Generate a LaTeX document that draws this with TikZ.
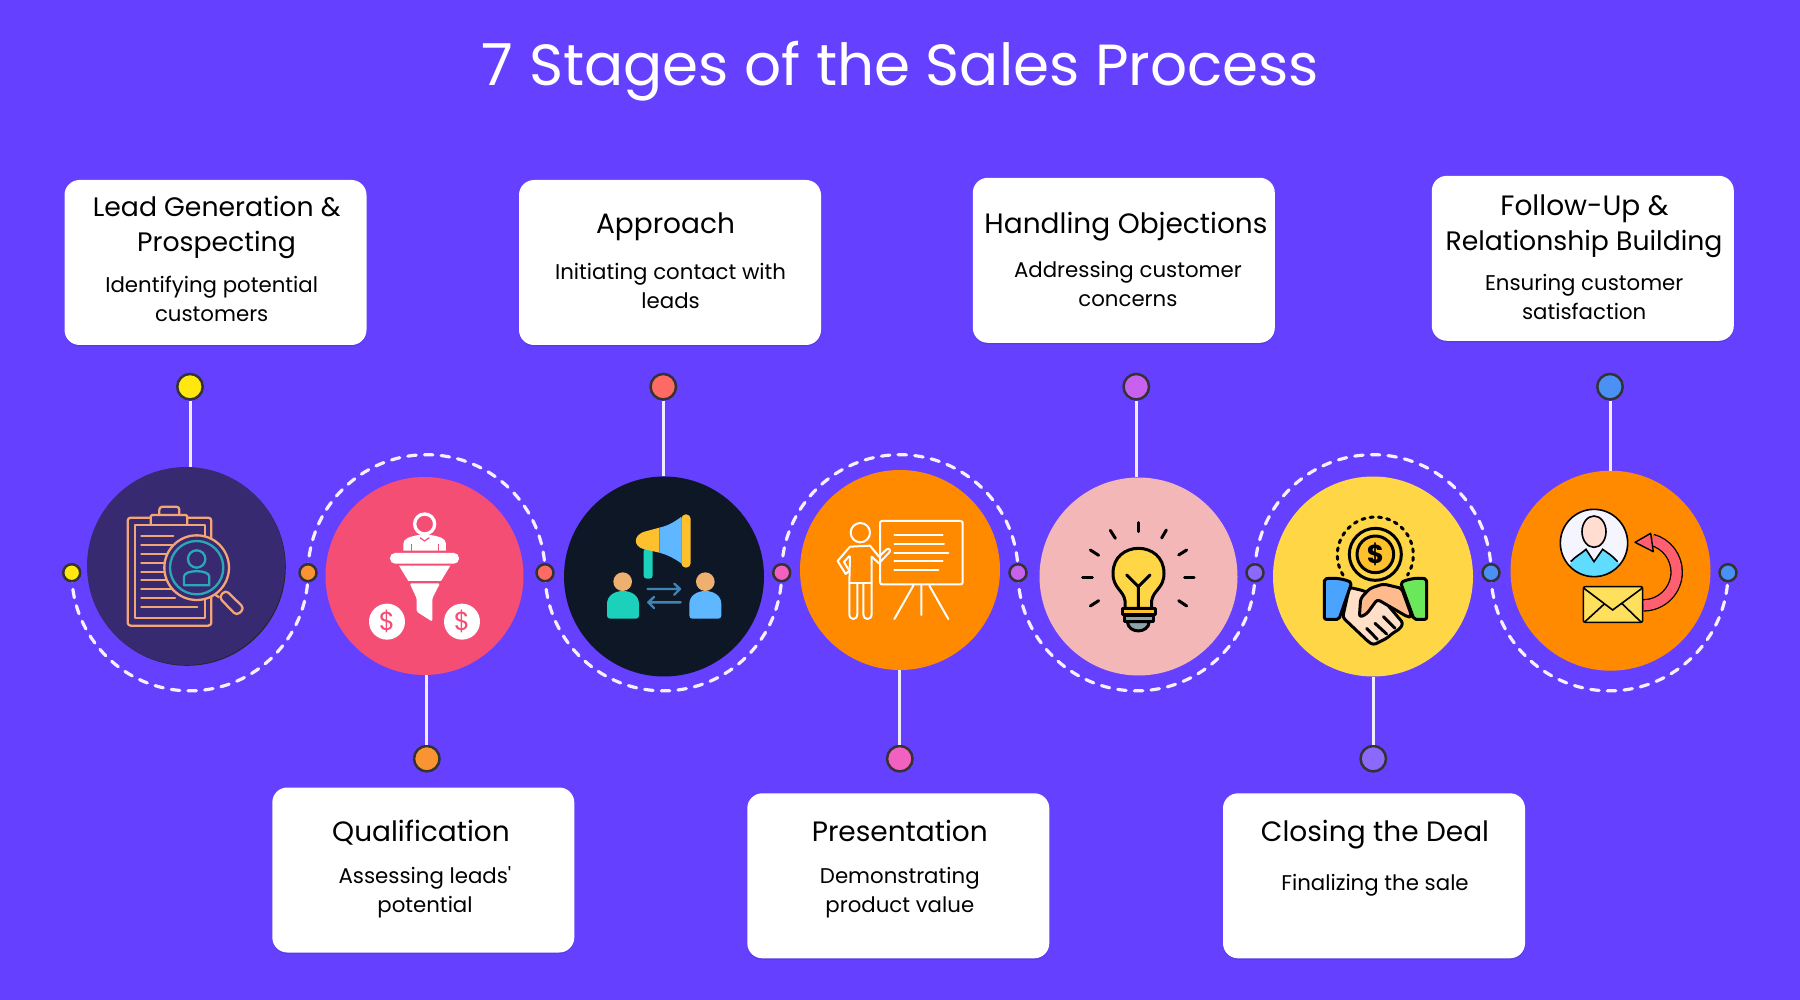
\documentclass[tikz,border=0pt]{standalone}
\usepackage{fontspec}
\setmainfont{Poppins}
\newfontfamily\straightfont{Poppins}
\usetikzlibrary{shadows}
\definecolor{bgc}{HTML}{6640FF}
\definecolor{cA}{HTML}{382A70}
\definecolor{cB}{HTML}{F54E75}
\definecolor{cC}{HTML}{0D1726}
\definecolor{cD}{HTML}{FF8A00}
\definecolor{cE}{HTML}{F4B7B7}
\definecolor{cF}{HTML}{FFD645}
\definecolor{dA}{HTML}{FFE70F}
\definecolor{dB}{HTML}{FA9433}
\definecolor{dC}{HTML}{FF6B64}
\definecolor{dD}{HTML}{F261BF}
\definecolor{dE}{HTML}{C862EE}
\definecolor{dF}{HTML}{8A69FB}
\definecolor{dG}{HTML}{4A90F5}
\definecolor{peach}{HTML}{F4A575}
\definecolor{tealb}{HTML}{2BA8B8}
\definecolor{tealc}{HTML}{1BD1BC}
\definecolor{ambr}{HTML}{FFC02E}
\definecolor{skyb}{HTML}{5FB7FF}
\definecolor{skin}{HTML}{EEB06F}
\definecolor{arrb}{HTML}{3E85B5}
\definecolor{retred}{HTML}{FF5F6E}
\definecolor{gbulb}{HTML}{8FA3A8}
\definecolor{cuffb}{HTML}{4AA3FF}
\definecolor{cuffg}{HTML}{6BE85A}
\definecolor{handl}{HTML}{FFDFC8}
\definecolor{handd}{HTML}{FFBB8E}
\definecolor{envy}{HTML}{FFE05C}
\definecolor{cyanb}{HTML}{5FDCFF}
\definecolor{facep}{HTML}{FFDDD0}
\tikzset{
  disc/.style={circle,inner sep=0pt,minimum size=#1,draw=none},
  pin/.style={circle,inner sep=0pt,minimum size=25.5pt,draw=black!80,line width=2.5pt,fill=#1},
  dot/.style={circle,inner sep=0pt,minimum size=17pt,draw=black!80,line width=2.5pt,fill=#1},
  card/.style={rectangle,rounded corners=15pt,fill=white,minimum width=302pt,minimum height=165pt,inner sep=0pt,
    drop shadow={shadow xshift=0pt,shadow yshift=-1.5pt,opacity=.1,fill=black}},
  stem/.style={draw=white!90!bgc,line width=3pt},
  wave/.style={draw=white!92!bgc,line width=3.2pt,line cap=round,dash pattern=on 8.5pt off 8.2pt},
  head/.style={anchor=base,yshift=-0.3pt,text=black,font=\fontsize{28}{34}\selectfont},
  headn/.style={anchor=base,yshift=-0.3pt,text=black,font=\fontsize{26.7}{34}\selectfont},
  desc/.style={anchor=base,yshift=-0.3pt,text=black,font=\fontsize{21.3}{28}\selectfont},
  zoomA/.style={shift={(60,360)},x=0.33333pt,y=-0.33333pt},
  zoomB/.style={shift={(540,360)},x=0.33333pt,y=-0.33333pt},
  zoomC/.style={shift={(1020,360)},x=0.33333pt,y=-0.33333pt},
  zoomD/.style={shift={(1480,360)},x=0.33333pt,y=-0.33333pt},
  icpeach/.style={draw=peach,line width=2.3pt,line join=round},
  icwhite/.style={draw=white,line width=2pt,line join=round,line cap=round},
  icblack/.style={draw=black,line width=3pt,line join=round,line cap=round},
}
\begin{document}
\begin{tikzpicture}[x=1pt,y=-1pt]
\path[use as bounding box,fill=bgc] (0,0) rectangle (1800,1000);

% title
\node[anchor=base,yshift=-1.2pt,text=white,font=\fontsize{58}{66}\selectfont] (title) at (900.5,84.3) {7 Stages of the Sales Process};

% cards
\node[card] (k1) at (215.5,262.5) {};
\node[card] (k2) at (670,262.5) {};
\node[card] (k3) at (1123.8,260.3) {};
\node[card] (k4) at (1582.8,258.3) {};
\node[card] (k5) at (423.3,870) {};
\node[card] (k6) at (898.3,875.8) {};
\node[card] (k7) at (1374,875.8) {};

\node[headn] (h1a) at (216.7,216.7) {Lead Generation \&};
\node[headn] (h1b) at (216.5,251) {Prospecting};
\node[desc] (t1a) at (211.7,292.7) {Identifying potential};
\node[desc] (t1b) at (211.7,321.7) {customers};
\node[head] (h2) at (665.5,233) {Approach};
\node[desc] (t2a) at (670.6,279) {Initiating contact with};
\node[desc] (t2b) at (670.6,308) {leads};
\node[head] (h3) at (1126,233) {Handling Objections};
\node[desc] (t3a) at (1127.9,277.3) {Addressing customer};
\node[desc] (t3b) at (1127.9,306) {concerns};
\node[head] (h4a) at (1584.5,215) {Follow-Up \&};
\node[headn] (h4b) at (1584,250.7) {Relationship Building};
\node[desc] (t4a) at (1584.2,290.7) {Ensuring customer};
\node[desc] (t4b) at (1584.2,319.3) {satisfaction};
\node[head] (h5) at (421,841) {Qualification};
\node[desc] (t5a) at (425,883.3) {Assessing leads{\straightfont '}};
\node[desc] (t5b) at (425,912) {potential};
\node[head] (h6) at (899.8,841.3) {Presentation};
\node[desc] (t6a) at (899.8,883.3) {Demonstrating};
\node[desc] (t6b) at (899.8,912) {product value};
\node[head] (h7) at (1375,841.3) {Closing the Deal};
\node[desc] (t7a) at (1375,890) {Finalizing the sale};

% dashed waves
\coordinate (s1) at (71.7,572.7);
\coordinate (s2) at (308,572.7);
\coordinate (s3) at (545,572.7);
\coordinate (s4) at (781.7,572.7);
\coordinate (s5) at (1018,572.7);
\coordinate (s6) at (1255,572.7);
\coordinate (s7) at (1491,572.7);
\coordinate (s8) at (1728,572.7);
\draw[wave] (s1) arc[start angle=180,end angle=0,x radius=118.15,y radius=118.15];
\draw[wave] (s2) arc[start angle=180,end angle=360,x radius=118.5,y radius=118];
\draw[wave] (s3) arc[start angle=180,end angle=0,x radius=118.35,y radius=118.15];
\draw[wave] (s4) arc[start angle=180,end angle=360,x radius=118.15,y radius=118];
\draw[wave] (s5) arc[start angle=180,end angle=0,x radius=118.5,y radius=118.15];
\draw[wave] (s6) arc[start angle=180,end angle=360,x radius=118,y radius=118];
\draw[wave] (s7) arc[start angle=180,end angle=0,x radius=118.5,y radius=118.15];

% circles
\fill[black!85] (187,567) circle[radius=98.8];
\node[disc=198pt,fill=cA] (c1) at (186,566) {};
\node[disc=198pt,fill=cB] (c2) at (424.5,576) {};
\node[disc=200pt,fill=cC] (c3) at (664,576.5) {};
\node[disc=200pt,fill=cD] (c4) at (900,570) {};
\node[disc=198pt,fill=cE] (c5) at (1138.5,576.5) {};
\node[disc=200pt,fill=cF] (c6) at (1373,576.5) {};
\node[disc=200pt,fill=cD] (c7) at (1610.5,570.7) {};

% small dots
\node[dot=dA] (d1) at (s1) {};
\node[dot=dB] (d2) at (s2) {};
\node[dot=dC] (d3) at (s3) {};
\node[dot=dD] (d4) at (s4) {};
\node[dot=dE] (d5) at (s5) {};
\node[dot=dF] (d6) at (s6) {};
\node[dot=dG] (d7) at (s7) {};
\node[dot=dG] (d8) at (s8) {};

% pins
\node[pin=dA] (p1) at (190,386.7) {};
\node[pin=dC] (p2) at (663.3,386.7) {};
\node[pin=dE] (p3) at (1136.3,386.7) {};
\node[pin=dG] (p4) at (1610,386.7) {};
\node[pin=dB] (p5) at (426.8,758.7) {};
\node[pin=dD] (p6) at (899.8,758.7) {};
\node[pin=dF] (p7) at (1373.3,758.7) {};
\draw[stem] (p1.south) -- (p1.south |- c1.north);
\draw[stem] (p2.south) -- (p2.south |- c3.north);
\draw[stem] (p3.south) -- (p3.south |- c5.north);
\draw[stem] (p4.south) -- (p4.south |- c7.north);
\draw[stem] (p5.north) -- (p5.north |- c2.south);
\draw[stem] (p6.north) -- (p6.north |- c4.south);
\draw[stem] (p7.north) -- (p7.north |- c6.south);

% icon 1: clipboard and magnifier
\begin{scope}[zoomA]
  \draw[icpeach,rounded corners=3pt] (203,473) rectangle (454,797);
  \draw[icpeach,fill=cA,rounded corners=3pt] (298,465) -- (298,440) -- (358,440) -- (358,465);
  \draw[icpeach,fill=cA,rounded corners=2pt] (272,495) -- (272,465) -- (382,465) -- (382,495);
  \draw[icpeach] (224,495) rectangle (434,775);
  \foreach \yy/\xe in {528/340,555/340,581/340,608/340,635/340,661/340,688/340,715/345,742/412}
    \draw[icpeach,line cap=round] (244,\yy) -- (\xe,\yy);
  \draw[icpeach,fill=cA,rounded corners=4pt] (497,690) -- (553,745) -- (530,767) -- (477,712) -- cycle;
  \draw[icpeach] (455,698) -- (478,712);
  \draw[icpeach,fill=cA] (410,623) circle[radius=97];
  \draw[draw=tealb,line width=2.3pt] (410,623) circle[radius=80];
  \draw[draw=tealb,line width=2.3pt] (410,597) circle[radius=26];
  \draw[draw=tealb,line width=2.3pt,line join=round] (372,676) -- (372,650) .. controls (372,628) and (448,628) .. (448,650) -- (448,676) -- cycle;
\end{scope}

% icon 2: funnel
\begin{scope}[zoomA]
  \fill[white] (1030,572) -- (1030,552) .. controls (1030,535) and (1050,530) .. (1075,525) -- (1112,525) .. controls (1140,530) and (1158,535) .. (1158,552) -- (1158,572) -- cycle;
  \draw[white,fill=cB,line width=3.3pt] (1094,492) circle[radius=30];
  \draw[cB,line width=1.2pt] (1054,552) -- (1054,572) (1135,552) -- (1135,572);
  \draw[cB,line width=1.2pt] (1080,533) -- (1094,543) -- (1108,533);
  \fill[white,rounded corners=5pt] (990,579) rectangle (1197,611);
  \fill[white] (1017,617) -- (1171,617) -- (1143,663) -- (1045,663) -- cycle;
  \fill[white,rounded corners=1.5pt] (1049,670) -- (1140,670) -- (1117,715) -- (1117,785) -- (1070,755) -- (1070,715) -- cycle;
  \node[disc=36pt,fill=white] (m1) at (981,785) {};
  \node[disc=36pt,fill=white] (m2) at (1206,785) {};
  \node[text=cB,font=\fontsize{26}{26}\selectfont,inner sep=0pt] (m1t) at (m1) {\$};
  \node[text=cB,font=\fontsize{26}{26}\selectfont,inner sep=0pt] (m2t) at (m2) {\$};
\end{scope}

% icon 3: megaphone and two people
\begin{scope}[zoomB]
  \fill[tealc,rounded corners=3pt] (311,565) rectangle (338,656);
  \fill[ambr] (358,503) -- (358,578) -- (310,567) .. controls (280,558) and (280,528) .. (310,516) -- cycle;
  \fill[skyb] (358,503) .. controls (385,497) and (405,485) .. (424,470) -- (424,610) .. controls (405,597) and (385,585) .. (358,578) -- cycle;
  \fill[ambr,rounded corners=4.5pt] (424,463) rectangle (452,623);
  \fill[skin] (248,665) circle[radius=28];
  \fill[skin] (496,665) circle[radius=28];
  \fill[tealc,rounded corners=3pt] (201,776) -- (201,741) .. controls (201,680) and (297,680) .. (297,741) -- (297,776) -- cycle;
  \fill[skyb,rounded corners=3pt] (448,776) -- (448,741) .. controls (448,680) and (544,680) .. (544,741) -- (544,776) -- cycle;
  \draw[arrb,line width=2.4pt,line cap=round,line join=round] (323,687) -- (420,687) (403,671) -- (420,687) -- (403,704);
  \draw[arrb,line width=2.4pt,line cap=round,line join=round] (422,727) -- (325,727) (342,711) -- (325,727) -- (342,744);
\end{scope}

% icon 4: presenter and board
\begin{scope}[zoomB]
  \draw[icwhite] (961,518) circle[radius=29];
  \draw[icwhite] (930,668) -- (995,668);
  \draw[icwhite] (930,590) -- (928,668) -- (928,762) .. controls (928,782) and (952,782) .. (952,762) -- (952,672);
  \draw[icwhite] (970,672) -- (970,762) .. controls (970,782) and (995,782) .. (995,762) -- (995,590);
  \draw[icwhite] (917,642) -- (893,603) -- (930,560) -- (990,557) -- (1017,590) -- (1040,568) .. controls (1048,563) and (1054,572) .. (1047,578) -- (1017,610) -- (995,590);
  \draw[icwhite] (917,642) -- (928,632);
  \draw[icwhite] (928,588) -- (912,606) -- (925,628);
  \draw[icwhite,rounded corners=2pt] (1020,483) rectangle (1268,673);
  \foreach \yy/\xe in {524/1208,551/1212,578/1225,604/1208,631/1195}
    \draw[icwhite] (1063,\yy) -- (\xe,\yy);
  \draw[icwhite] (1120,677) -- (1063,777) (1168,677) -- (1225,777) (1144,677) -- (1144,765);
\end{scope}

% icon 5: light bulb
\begin{scope}[zoomC]
  \foreach \xa/\ya/\xb/\yb in {355/488/355/515,271/511/286/535,439/510/425/534,211/570/236/586,500/570/476/585,188/654/217/654,494/654/522/654,211/738/236/722,500/738/476/722}
    \draw[icblack] (\xa,\ya) -- (\xb,\yb);
  \draw[icblack,fill=gbulb] (322,785) .. controls (325,822) and (385,822) .. (388,785) -- cycle;
  \draw[icblack,fill=cF] (315,745) -- (315,722) .. controls (310,690) and (279,685) .. (279,640) .. controls (279,540) and (432,540) .. (432,640) .. controls (432,685) and (400,690) .. (395,722) -- (395,745) -- cycle;
  \draw[icblack] (320,645) -- (355,680) -- (390,645) (355,680) -- (355,745);
  \draw[icblack,fill=ambr] (306,745) rectangle (405,765);
  \draw[icblack,fill=gbulb] (312,767) rectangle (400,785);
\end{scope}

% icon 6: handshake and coin
\begin{scope}[zoomC]
  \draw[draw=black,line width=3pt,line cap=round,dash pattern=on 3.2pt off 5.2pt] (969.3,645.4) arc[start angle=148,end angle=392,radius=114];
  \draw[icblack,fill=cF] (1066,583) circle[radius=78];
  \draw[icblack,fill=ambr] (1066,583) circle[radius=55];
  \node[text=black,font=\bfseries\fontsize{26}{26}\selectfont,inner sep=0pt] (m3) at (1066,583) {\$};
  \draw[icblack,fill=handl,rounded corners=3pt] (988,682) -- (1030,692) -- (1090,720) -- (1150,790) -- (1138,808) -- (1120,818) -- (1100,835) -- (1080,845) -- (1060,855) -- (1045,845) -- (968,772) -- cycle;
  \draw[icblack] (1090,770) -- (1125,805) (1065,790) -- (1100,822) (1040,805) -- (1072,838);
  \draw[icblack,fill=handd,rounded corners=3pt] (1145,685) -- (1090,672) -- (1050,685) -- (1022,715) -- (1018,772) -- (1040,762) -- (1072,718) -- (1165,772) -- (1175,768) -- cycle;
  \draw[icblack,fill=cuffb,rounded corners=2pt] (913,657) .. controls (945,652) and (975,658) .. (995,668) -- (957,778) -- (913,778) -- cycle;
  \draw[icblack,fill=cuffg,rounded corners=2pt] (1220,657) .. controls (1190,652) and (1162,658) .. (1142,668) -- (1182,778) -- (1220,778) -- cycle;
\end{scope}

% icon 7: contact, envelope and return arrow
\begin{scope}[zoomD]
  \fill[white!96!blue] (342,549) circle[radius=101];
  \begin{scope}
    \clip (342,549) circle[radius=101];
    \fill[cyanb] (270,612) .. controls (285,590) and (305,580) .. (318,568) -- (342,605) -- (368,568) .. controls (385,580) and (405,590) .. (418,612) -- (418,660) -- (266,660) -- cycle;
  \end{scope}
  \draw[black,line width=1.6pt] (272,605) .. controls (285,590) and (305,580) .. (318,568) -- (342,605) -- (368,568) .. controls (385,580) and (400,590) .. (413,605);
  \draw[black,line width=1.6pt,fill=facep] (342,515) ellipse[x radius=36,y radius=47];
  \draw[black,line width=1.6pt] (342,549) circle[radius=101];
  \draw[black,line width=12.6pt] (490,736) arc[start angle=90,end angle=-75,radius=100];
  \draw[retred,line width=10pt] (490,736) arc[start angle=90,end angle=-75,radius=100];
  \draw[black,line width=1.4pt,line join=round,fill=retred] (465,547) -- (512,520) -- (520,575) -- cycle;
  \draw[black,line width=1.6pt,fill=envy,rounded corners=2pt] (310,680) rectangle (488,787);
  \draw[black,line width=1.6pt] (312,685) -- (398,750) -- (486,685) (315,785) -- (375,730) (482,785) -- (425,730);
\end{scope}
\end{tikzpicture}
\end{document}
